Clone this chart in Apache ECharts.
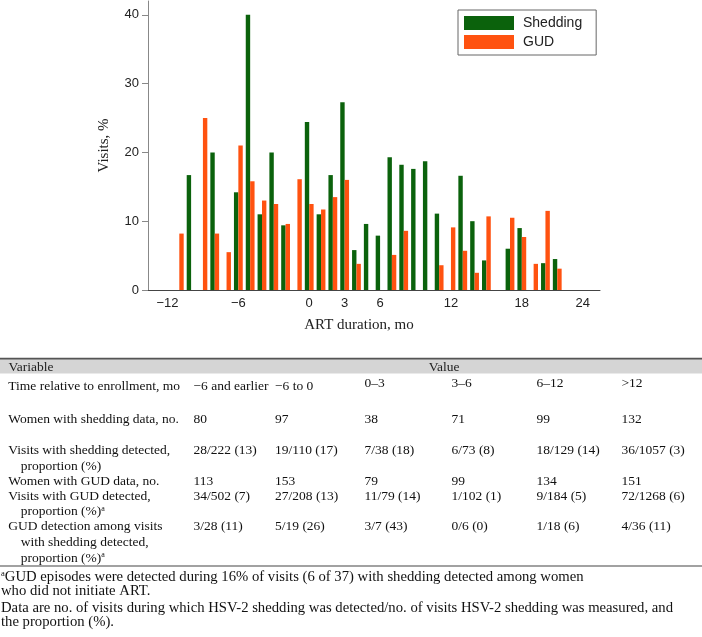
<!DOCTYPE html>
<html>
<head>
<meta charset="utf-8">
<script src="https://cdn.jsdelivr.net/npm/echarts@6/dist/echarts.min.js"></script>
<style>
html,body{margin:0;padding:0;background:#fff;}
#chart{width:702px;height:637px;}
</style>
</head>
<body>
<div id="chart"></div>
<script>
// ---- Chart data (ART duration in months, % of visits) ----
const months = [-11,-10,-9,-8,-7,-6,-5,-4,-3,-2,-1,0,1,2,3,4,5,6,7,8,9,10,11,12,13,14,15,16,17,18,19,20,21];
const shedding = [null,16.7,null,20.0,null,14.2,40.0,11.0,20.0,9.4,null,24.4,11.0,16.7,27.3,5.8,9.6,7.9,19.3,18.2,17.6,18.7,11.1,null,16.6,10.0,4.3,null,6.0,9.0,null,3.9,4.5];
const gud = [8.2,null,25.0,8.2,5.5,21.0,15.8,13.0,12.5,9.6,16.1,12.5,11.7,13.5,16.0,3.8,null,null,5.1,8.6,null,null,3.6,9.1,5.7,2.5,10.7,null,10.5,7.7,3.8,11.5,3.1];
const xTicks = [-12,-6,0,3,6,12,18,24];
const yTicks = [0,10,20,30,40];
const seriesNames = ['Shedding','GUD'];

// ---- Table data ----
const headerLeft = 'Variable';
const headerRight = 'Value';
const rowLabels = [
  ['Time relative to enrollment, mo'],
  ['Women with shedding data, no.'],
  ['Visits with shedding detected,', '  proportion (%)'],
  ['Women with GUD data, no.'],
  ['Visits with GUD detected,', '  proportion (%){s|a}'],
  ['GUD detection among visits', '  with shedding detected,', '  proportion (%){s|a}']
];
const timeGroups = ['\u22126 and earlier','\u22126 to 0','0\u20133','3\u20136','6\u201312','>12'];
const womenShed = ['80','97','38','71','99','132'];
const visitsShed = ['28/222 (13)','19/110 (17)','7/38 (18)','6/73 (8)','18/129 (14)','36/1057 (3)'];
const womenGud = ['113','153','79','99','134','151'];
const visitsGud = ['34/502 (7)','27/208 (13)','11/79 (14)','1/102 (1)','9/184 (5)','72/1268 (6)'];
const gudAmongShed = ['3/28 (11)','5/19 (26)','3/7 (43)','0/6 (0)','1/18 (6)','4/36 (11)'];
const footnotes = [
  '{s|a}GUD episodes were detected during 16% of visits (6 of 37) with shedding detected among women',
  'who did not initiate ART.',
  'Data are no. of visits during which HSV-2 shedding was detected/no. of visits HSV-2 shedding was measured, and',
  'the proportion (%).'
];

// ---- Layout ----
const GREEN = '#0b620c';
const ORANGE = '#ff5210';
const SERIF = '"Liberation Serif","Times New Roman",serif';
const SANS = '"Liberation Sans",Arial,Helvetica,sans-serif';
const TFS = 13.5;
const colX = [193.5, 275, 364.5, 451.5, 536.5, 621.5];
const rowLineY = [[386.7],[419.3],[450,466],[481.7],[496.7,511.7],[526.7,542.3,558.3]];
const rowValueY = [386.7,419.3,450,481.7,496.7,526.7];
const footY = [576.7,591,607.7,622.3];
const tableRows = [timeGroups, womenShed, visitsShed, womenGud, visitsGud, gudAmongShed];
const supRich = { s: { fontSize: 8, fontFamily: SERIF, verticalAlign: 'top', fill: '#111' } };

const g = [];
g.push({ type:'rect', shape:{x:0,y:358.5,width:702,height:15}, style:{fill:'#d5d5d5'}, silent:true });
g.push({ type:'line', shape:{x1:0,y1:358.6,x2:702,y2:358.6}, style:{stroke:'#555',lineWidth:1.6}, silent:true });
g.push({ type:'line', shape:{x1:0,y1:566,x2:702,y2:566}, style:{stroke:'#444',lineWidth:1.2}, silent:true });
g.push({ type:'text', style:{x:8.5,y:367.5,text:headerLeft,fontFamily:SERIF,fontSize:TFS,fill:'#222',verticalAlign:'middle'} });
g.push({ type:'text', style:{x:444,y:367.5,text:headerRight,fontFamily:SERIF,fontSize:TFS,fill:'#222',align:'center',verticalAlign:'middle'} });
rowLabels.forEach((lines, r) => {
  lines.forEach((t, i) => {
    const indent = t.startsWith('  ');
    g.push({ type:'text', style:{ x: indent ? 20.7 : 8.3, y: rowLineY[r][i], text: t.trim(), fontFamily:SERIF, fontSize:TFS, fill:'#111', verticalAlign:'middle', rich: supRich } });
  });
});
tableRows.forEach((vals, r) => {
  vals.forEach((v, c) => {
    const yy = (r === 0 && c >= 2) ? rowValueY[r] - 3.4 : rowValueY[r];
    g.push({ type:'text', style:{ x: colX[c], y: yy, text: v, fontFamily:SERIF, fontSize:TFS, fill:'#111', verticalAlign:'middle' } });
  });
});
footnotes.forEach((t, i) => {
  g.push({ type:'text', style:{ x: 1, y: footY[i], text: t, fontFamily:SERIF, fontSize:14.7, fill:'#111', verticalAlign:'middle', rich: { s: { fontSize: 8.5, fontFamily: SERIF, verticalAlign: 'top', fill:'#111' } } } });
});

const chart = echarts.init(document.getElementById('chart'), null, { renderer: 'canvas' });
chart.setOption({
  animation: false,
  backgroundColor: '#fff',
  grid: { left: 148, right: 102, top: 1, bottom: 347, containLabel: false },
  legend: {
    data: seriesNames,
    orient: 'vertical',
    left: 458, top: 10,
    itemWidth: 50, itemHeight: 14, itemGap: 5,
    padding: [6, 14, 6, 6],
    borderColor: '#666', borderWidth: 1,
    icon: 'rect',
    textStyle: { fontFamily: SANS, fontSize: 14, color: '#222', padding: [0,0,0,4] }
  },
  xAxis: {
    type: 'value',
    min: -13.65, max: 24.62,
    splitLine: { show: false },
    axisTick: { show: false },
    axisLine: { show: true, onZero: false, lineStyle: { color: '#444', width: 1 } },
    axisLabel: {
      customValues: xTicks,
      fontFamily: SANS, fontSize: 13, color: '#222', margin: 7,
      formatter: v => {
        const s = v < 0 ? '\u2212' + Math.abs(v) : String(v);
        return v === xTicks[xTicks.length - 1] ? '{r|' + s + '}' : s;
      },
      rich: { r: { fontFamily: SANS, fontSize: 13, color: '#222', padding: [0, 20, 0, 0] } }
    },
    name: 'ART duration, mo',
    nameLocation: 'middle',
    nameGap: 28,
    nameTextStyle: { fontFamily: SERIF, fontSize: 15, color: '#222', padding: [0, 30, 0, 0] }
  },
  yAxis: {
    type: 'value',
    min: 0, max: 42,
    splitLine: { show: false },
    axisLine: { show: true, onZero: false, lineStyle: { color: '#888', width: 1 } },
    axisTick: { show: true, customValues: yTicks, length: 6, lineStyle: { color: '#888' } },
    axisLabel: { customValues: yTicks, fontFamily: SANS, fontSize: 13, color: '#222', margin: 9 },
    name: 'Visits, %',
    nameLocation: 'middle',
    nameGap: 36,
    nameTextStyle: { fontFamily: SERIF, fontSize: 15, color: '#222' }
  },
  series: [
    {
      name: seriesNames[0], type: 'bar',
      data: months.map((m, i) => [m, shedding[i]]),
      barWidth: 4.4, barGap: '0%',
      itemStyle: { color: GREEN }
    },
    {
      name: seriesNames[1], type: 'bar',
      data: months.map((m, i) => [m, gud[i]]),
      barWidth: 4.4, barGap: '0%',
      itemStyle: { color: ORANGE }
    }
  ],
  graphic: { elements: g }
});
</script>
</body>
</html>
